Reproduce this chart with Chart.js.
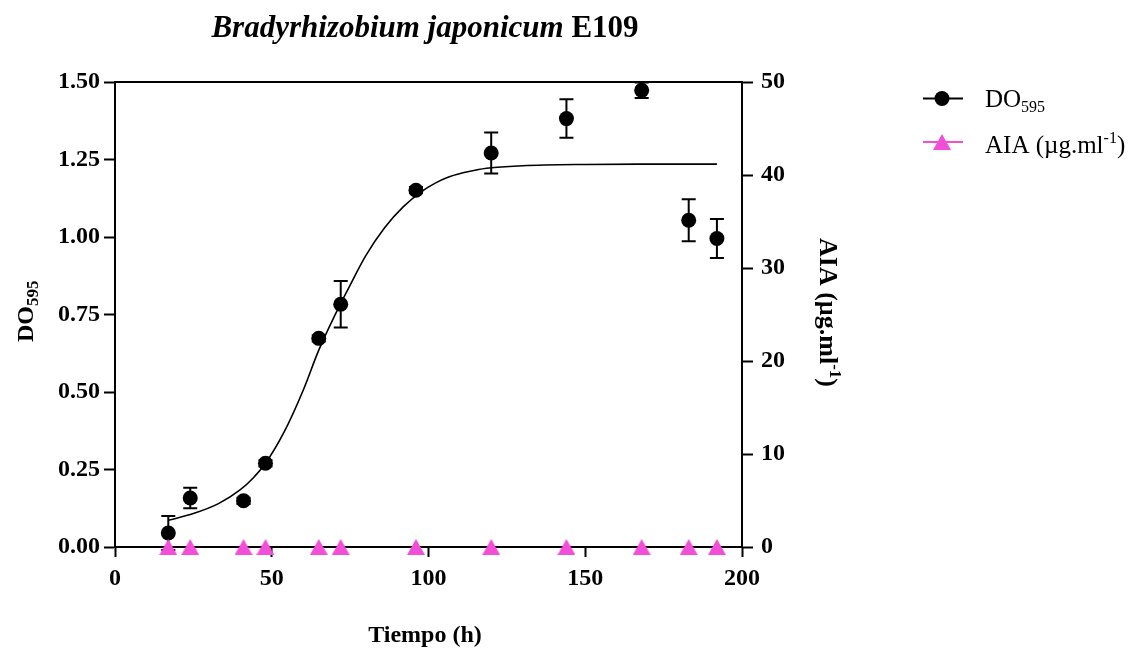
<!DOCTYPE html>
<html><head><meta charset="utf-8">
<script src="https://cdn.jsdelivr.net/npm/chart.js@4.4.1/dist/chart.umd.min.js"></script>
<style>html,body{margin:0;padding:0;background:#fff;} canvas{display:block;}</style>
</head><body>
<canvas id="c" width="1133" height="648"></canvas>
<script>
// ---- data ----
const timeH    = [17, 24, 41, 48, 65, 72, 96, 120, 144, 168, 183, 192];
const doValues = [0.045, 0.158, 0.149, 0.270, 0.673, 0.783, 1.151, 1.271, 1.382, 1.473, 1.054, 0.995];
const doSD     = [0.055, 0.033, 0.010, 0.010, 0.010, 0.075, 0.010, 0.066, 0.062, 0.025, 0.068, 0.063];
const aiaValues = [0, 0, 0, 0, 0, 0, 0, 0, 0, 0, 0, 0];
// fitted growth curve
const fitX = [17, 25, 33, 40, 44, 48, 54, 60, 65, 70, 75, 80, 86, 92, 98, 102, 106, 111, 116, 122, 130, 150, 170, 192];
const fitY = [0.086, 0.108, 0.140, 0.185, 0.222, 0.270, 0.372, 0.505, 0.635, 0.745, 0.845, 0.940, 1.030, 1.098, 1.148, 1.173, 1.192, 1.207, 1.218, 1.225, 1.230, 1.234, 1.235, 1.235];
const xTicks = [0, 50, 100, 150, 200];
const yLeftTicks = [0, 0.25, 0.5, 0.75, 1.0, 1.25, 1.5];
const yRightTicks = [0, 10, 20, 30, 40, 50];
const titleItalic = 'Bradyrhizobium japonicum ';
const titleBold = 'E109';
const xTitle = 'Tiempo (h)';

const PINK = '#F24FD8';
const FONT = '"Liberation Serif", "Times New Roman", serif';

function triangleImg(w, h, color) {
  const c = document.createElement('canvas');
  c.width = w; c.height = h;
  const g = c.getContext('2d');
  g.fillStyle = color;
  g.beginPath();
  g.moveTo(w / 2, 0); g.lineTo(w, h); g.lineTo(0, h); g.closePath();
  g.fill();
  return c;
}
const tri = triangleImg(18, 16, PINK);

const tickFont = { family: FONT, size: 24, weight: 'bold' };

const errorBars = {
  id: 'errorBars',
  beforeDatasetsDraw(chart) {
    const { ctx } = chart;
    const xs = chart.scales.x, ys = chart.scales.y;
    ctx.save();
    ctx.strokeStyle = '#000';
    ctx.lineWidth = 2;
    timeH.forEach((t, i) => {
      const px = xs.getPixelForValue(t);
      const top = ys.getPixelForValue(doValues[i] + doSD[i]);
      const bot = ys.getPixelForValue(doValues[i] - doSD[i]);
      ctx.beginPath();
      ctx.moveTo(px, top); ctx.lineTo(px, bot);
      ctx.moveTo(px - 7, top); ctx.lineTo(px + 7, top);
      ctx.moveTo(px - 7, bot); ctx.lineTo(px + 7, bot);
      ctx.stroke();
    });
    ctx.restore();
  }
};

const decorations = {
  id: 'decorations',
  afterDraw(chart) {
    const { ctx, chartArea } = chart;
    ctx.save();
    // top frame line
    ctx.strokeStyle = '#000';
    ctx.lineWidth = 2;
    ctx.beginPath();
    ctx.moveTo(chartArea.left - 1, chartArea.top);
    ctx.lineTo(chartArea.right + 1, chartArea.top);
    ctx.stroke();

    ctx.fillStyle = '#000';
    ctx.textBaseline = 'alphabetic';
    // title
    ctx.font = 'italic bold 31px ' + FONT;
    const w1 = ctx.measureText(titleItalic).width;
    ctx.font = 'bold 31px ' + FONT;
    const w2 = ctx.measureText(titleBold).width;
    const tx = 425 - (w1 + w2) / 2;
    ctx.font = 'italic bold 31px ' + FONT;
    ctx.fillText(titleItalic, tx, 37);
    ctx.font = 'bold 31px ' + FONT;
    ctx.fillText(titleBold, tx + w1, 37);

    // x title
    ctx.font = 'bold 24px ' + FONT;
    ctx.textAlign = 'center';
    ctx.fillText(xTitle, 425, 642);
    ctx.textAlign = 'left';

    // left axis title DO595 (rotated -90)
    ctx.save();
    ctx.translate(33, 342);
    ctx.rotate(-Math.PI / 2);
    ctx.font = 'bold 24px ' + FONT;
    ctx.fillText('DO', 0, 0);
    const wd = ctx.measureText('DO').width;
    ctx.font = 'bold 17px ' + FONT;
    ctx.fillText('595', wd, 5);
    ctx.restore();

    // right axis title AIA (µg.ml-1) (rotated +90)
    ctx.save();
    ctx.translate(820, 238);
    ctx.rotate(Math.PI / 2);
    ctx.font = 'bold 26px ' + FONT;
    const a1 = 'AIA (µg.ml';
    ctx.fillText(a1, 0, 0);
    let wa = ctx.measureText(a1).width;
    ctx.font = 'bold 17px ' + FONT;
    ctx.fillText('-1', wa, -10);
    wa += ctx.measureText('-1').width;
    ctx.font = 'bold 26px ' + FONT;
    ctx.fillText(')', wa, 0);
    ctx.restore();

    // legend
    ctx.lineWidth = 2;
    ctx.strokeStyle = '#000';
    ctx.beginPath(); ctx.moveTo(923, 98.5); ctx.lineTo(963, 98.5); ctx.stroke();
    ctx.beginPath(); ctx.arc(942, 98.5, 7.5, 0, Math.PI * 2); ctx.fill();
    ctx.font = '25px ' + FONT;
    ctx.fillText('DO', 985, 107);
    const wl = ctx.measureText('DO').width;
    ctx.font = '16px ' + FONT;
    ctx.fillText('595', 985 + wl, 112);

    ctx.strokeStyle = PINK;
    ctx.beginPath(); ctx.moveTo(923, 142); ctx.lineTo(963, 142); ctx.stroke();
    ctx.drawImage(tri, 942 - 9, 142 - 8);
    ctx.fillStyle = '#000';
    ctx.font = '25px ' + FONT;
    const l2 = 'AIA (µg.ml';
    ctx.fillText(l2, 985, 153);
    let wl2 = ctx.measureText(l2).width;
    ctx.font = '16px ' + FONT;
    ctx.fillText('-1', 985 + wl2, 143);
    wl2 += ctx.measureText('-1').width;
    ctx.font = '25px ' + FONT;
    ctx.fillText(')', 985 + wl2, 153);
    ctx.restore();
  }
};

new Chart(document.getElementById('c'), {
  type: 'scatter',
  data: {
    datasets: [
      {
        label: 'AIA (µg.ml-1)',
        data: timeH.map((t, i) => ({ x: t, y: aiaValues[i] })),
        yAxisID: 'y1',
        pointStyle: tri,
        pointRadius: 8,
        clip: false
      },
      {
        label: 'DO595',
        data: timeH.map((t, i) => ({ x: t, y: doValues[i] })),
        yAxisID: 'y',
        pointRadius: 7.5,
        pointBackgroundColor: '#000',
        pointBorderColor: '#000',
        pointBorderWidth: 0,
        clip: false
      },
      {
        label: 'fit',
        type: 'line',
        data: fitX.map((x, i) => ({ x: x, y: fitY[i] })),
        yAxisID: 'y',
        borderColor: '#000',
        borderWidth: 1.6,
        pointRadius: 0,
        fill: false,
        cubicInterpolationMode: 'monotone',
        clip: false
      }
    ]
  },
  options: {
    responsive: false,
    animation: false,
    devicePixelRatio: 1,
    layout: { padding: { top: 82, left: 0, right: 0, bottom: 0 } },
    plugins: { legend: { display: false }, title: { display: false }, tooltip: { enabled: false } },
    scales: {
      x: {
        type: 'linear', min: 0, max: 200,
        afterBuildTicks: s => { s.ticks = xTicks.map(v => ({ value: v })); },
        afterFit: s => { s.height = 101; },
        ticks: { font: tickFont, color: '#000', padding: 7, maxRotation: 0 },
        grid: { drawOnChartArea: false, drawTicks: true, tickLength: 10, tickWidth: 2, tickColor: '#000' },
        border: { display: true, color: '#000', width: 2 }
      },
      y: {
        type: 'linear', position: 'left', min: 0, max: 1.5,
        afterBuildTicks: s => { s.ticks = yLeftTicks.map(v => ({ value: v })); },
        afterFit: s => { s.width = 115; },
        ticks: { font: tickFont, color: '#000', padding: 4, callback: v => Number(v).toFixed(2) },
        grid: { drawOnChartArea: false, drawTicks: true, tickLength: 11, tickWidth: 2, tickColor: '#000' },
        border: { display: true, color: '#000', width: 2 }
      },
      y1: {
        type: 'linear', position: 'right', min: 0, max: 50,
        afterBuildTicks: s => { s.ticks = yRightTicks.map(v => ({ value: v })); },
        afterFit: s => { s.width = 391; },
        ticks: { font: tickFont, color: '#000', padding: 8 },
        grid: { drawOnChartArea: false, drawTicks: true, tickLength: 11, tickWidth: 2, tickColor: '#000' },
        border: { display: true, color: '#000', width: 2 }
      }
    }
  },
  plugins: [errorBars, decorations]
});
</script>
</body></html>
